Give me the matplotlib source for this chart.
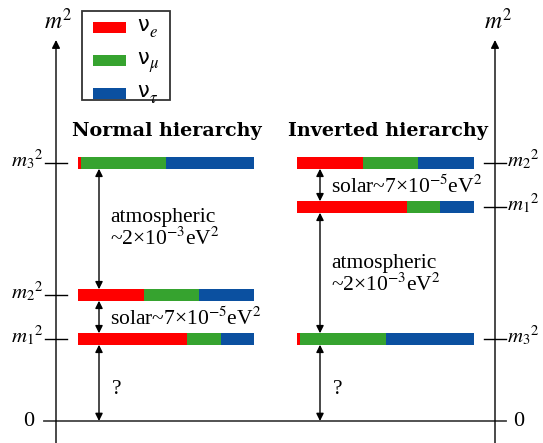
import matplotlib
matplotlib.use("Agg")
import matplotlib.pyplot as plt

plt.rcParams["mathtext.fontset"] = "stix"
plt.rcParams["font.family"] = "Liberation Serif"

# m^2 levels (arbitrary units, 0 = lightest possible)
normal_levels = [8.2, 12.6, 25.8]      # m1^2, m2^2, m3^2
inverted_levels = [21.4, 25.8, 8.2]    # m1^2, m2^2, m3^2
level_labels = [r"$m_1{}^2$", r"$m_2{}^2$", r"$m_3{}^2$"]

# flavour content of each mass state (nu_e, nu_mu, nu_tau)
flavours = [r"e", r"\mu", r"\tau"]
colors = ["#ff0000", "#36a32f", "#0b50a0"]
content = {
    1: [0.62, 0.19, 0.19],
    2: [0.375, 0.31, 0.315],
    3: [0.015, 0.485, 0.50],
}

atm_text = "atmospheric\n~2×10$^{-3}$eV$^2$"
sol_text = "solar~7×10$^{-5}$eV$^2$"

fig = plt.figure(figsize=(5.43, 4.43), dpi=100)
ax = fig.add_axes([0, 0, 1, 1])
ax.set_xlim(0, 543)
ax.set_ylim(-2.2, 42.1)
ax.axis("off")

bar_h = 1.15
left_bar = (78, 176)     # x start, width
right_bar = (297, 177)
ax_left, ax_right = 56, 495


def draw_level(x0, w, lev, frac):
    start = x0
    for f, c in zip(frac, colors):
        ax.barh(lev, w * f, left=start, height=bar_h, color=c, lw=0)
        start += w * f


def arrow(x, y0, y1):
    ax.annotate("", xy=(x, y0), xytext=(x, y1),
                arrowprops=dict(arrowstyle="<|-|>", color="black", lw=1,
                                mutation_scale=11, shrinkA=0, shrinkB=0))


# axes
for xa in (ax_left, ax_right):
    ax.annotate("", xy=(xa, 38.1), xytext=(xa, -2.2),
                arrowprops=dict(arrowstyle="-|>", color="black", lw=1,
                                mutation_scale=12, shrinkA=0, shrinkB=0))
ax.plot([44, 506], [0, 0], color="#444444", lw=1.3)
ax.text(34, 0, "0", ha="right", va="center", fontsize=16)
ax.text(513, 0, "0", ha="left", va="center", fontsize=16)
ax.text(58, 40.0, r"$m^2$", ha="center", va="center", fontsize=17)
ax.text(498, 40.0, r"$m^2$", ha="center", va="center", fontsize=17)

# levels
for i, lev in enumerate(normal_levels):
    draw_level(left_bar[0], left_bar[1], lev, content[i + 1])
    ax.plot([45, 67], [lev, lev], color="black", lw=1)
    ax.text(44, lev + 0.3, level_labels[i], ha="right", va="center", fontsize=15)
for i, lev in enumerate(inverted_levels):
    draw_level(right_bar[0], right_bar[1], lev, content[i + 1])
    ax.plot([484, 506], [lev, lev], color="black", lw=1)
    ax.text(507, lev + 0.3, level_labels[i], ha="left", va="center", fontsize=15)

hb = bar_h / 2
n1, n2, n3 = normal_levels
i1, i2, i3 = inverted_levels
arrow(99, n2 + hb, n3 - hb)
arrow(99, n1 + hb, n2 - hb)
arrow(99, 0, n1 - hb)
arrow(320, i1 + hb, i2 - hb)
arrow(320, i3 + hb, i1 - hb)
arrow(320, 0, i3 - hb)

fs = 15.5
ax.text(110, (n2 + n3) / 2, atm_text, ha="left", va="center", fontsize=fs,
        linespacing=1.0)
ax.text(110, (n1 + n2) / 2 - 0.2, sol_text, ha="left", va="center", fontsize=fs)
ax.text(112, n1 / 2 - 0.9, "?", ha="left", va="center", fontsize=fs)
ax.text(331, (i1 + i2) / 2 - 0.2, sol_text, ha="left", va="center", fontsize=fs)
ax.text(331, (i3 + i1) / 2 - 0.2, atm_text, ha="left", va="center", fontsize=fs,
        linespacing=1.0)
ax.text(333, i3 / 2 - 0.9, "?", ha="left", va="center", fontsize=fs)

ax.text(167, 29.0, "Normal hierarchy", ha="center", va="center", fontsize=13.8,
        fontweight="bold", family="DejaVu Serif")
ax.text(388, 29.0, "Inverted hierarchy", ha="center", va="center", fontsize=13.8,
        fontweight="bold", family="DejaVu Serif")

# legend box
ax.add_patch(plt.Rectangle((82, 32.1), 88, 8.9, fill=False,
                           ec="#333333", lw=1.3))
for k, (fl, c) in enumerate(zip(flavours, colors)):
    yk = 39.4 - 3.3 * k
    ax.barh(yk, 33, left=93, height=1.1, color=c, lw=0)
    ax.text(137, yk + 0.2, "ν", ha="left", va="center", fontsize=15,
            family="DejaVu Sans")
    ax.text(149, yk - 0.6, "$" + fl + "$", ha="left", va="center", fontsize=12)

fig.savefig("out.png", dpi=100)
